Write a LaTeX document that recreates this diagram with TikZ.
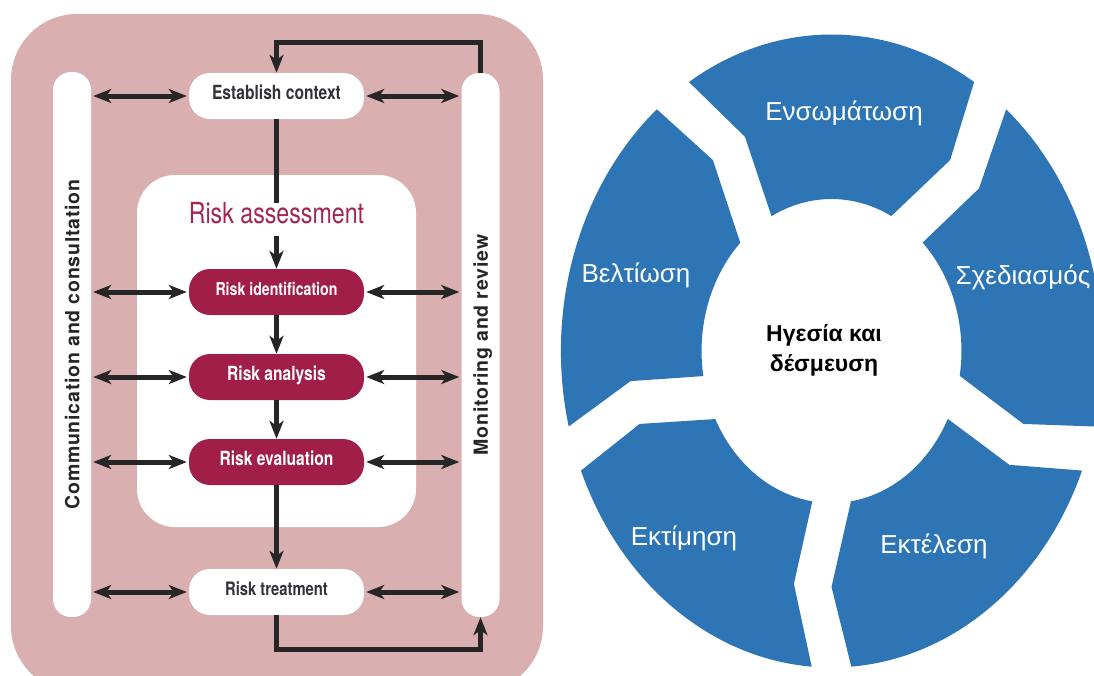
\documentclass[tikz,border=0pt]{standalone}
\usepackage{fontspec}
\usetikzlibrary{arrows.meta}
\newfontfamily\condfont[FakeStretch=0.8]{TeX Gyre Heros}
\newfontfamily\sidefont[LetterSpace=4]{TeX Gyre Heros}
\newfontfamily\greekfont{Liberation Sans}
\definecolor{pinkbg}{RGB}{218,175,176}
\definecolor{crimson}{RGB}{160,30,72}
\definecolor{assesscol}{RGB}{163,38,80}
\definecolor{ink}{RGB}{38,38,38}
\definecolor{labelgray}{RGB}{50,50,58}
\definecolor{cycleblue}{RGB}{46,117,182}

% one block of the cycle, centred on angle #1, pointing clockwise
\newcommand\cycleseg[1]{%
  \fill[cycleblue] ({#1+31.8}:316.5)
    arc[start angle={#1+31.8}, end angle={#1-31.8}, radius=316.5]
    -- ({#1-36}:236) -- ({#1-27.4}:152)
    arc[start angle={#1-27.4}, end angle={#1+27.5}, radius=152]
    -- ({#1+25.3}:237) -- cycle;}

\begin{document}
\begin{tikzpicture}[x=1pt,y=-1pt,
  sidebar/.style={fill=white, rounded corners=18pt, rotate=90, minimum height=38pt,
    inner sep=0pt, text depth=0pt, text=black!85,
    font=\sidefont\bfseries\fontsize{19.5}{22}\selectfont},
  plainbox/.style={fill=white, rounded corners=21pt, minimum width=175pt, minimum height=46pt,
    inner sep=0pt, text height=0.72em, text depth=0pt, text=labelgray},
  stagebox/.style={fill=crimson, rounded corners=21pt, minimum width=175pt, minimum height=46pt,
    inner sep=0pt, text height=0.72em, text depth=0pt, text=white},
  conn/.style={draw=ink, line width=5pt},
  headtip/.tip={Stealth[length=18pt, width=14pt, inset=5pt]},
  twoway/.style={conn, headtip-headtip, shorten <=2pt, shorten >=2pt},
  flow/.style={conn, -headtip},
  seglabel/.style={text=white, font=\greekfont\fontsize{26}{29}\selectfont}
]
\useasboundingbox (0,0) rectangle (1094,675);
\fill[white] (0,0) rectangle (1094,675);

% ---------------- risk management process ----------------
\fill[pinkbg, rounded corners=66pt] (11,14) rectangle (543,692);

\node[sidebar, minimum width=545pt] (comm) at (72,344.5) {Communication and consultation};
\node[sidebar, minimum width=544pt] (mon) at (480.5,345) {Monitoring and review};

\node[fill=white, rounded corners=38pt, minimum width=279pt, minimum height=352pt,
      inner sep=0pt] (assess) at (276.5,351) {};

\node[plainbox, font=\condfont\bfseries\fontsize{19.5}{22}\selectfont] (ctx) at (276.5,96) {Establish context};
\node[inner sep=0pt, minimum height=32pt, text height=0.72em, text depth=0pt, text=assesscol,
      font=\condfont\fontsize{29}{32}\selectfont] (ra) at (276.5,219.5) {Risk assessment};
\node[stagebox, font=\condfont\bfseries\fontsize{17.7}{20}\selectfont] (rid) at (276.5,292) {Risk identification};
\node[stagebox, font=\condfont\bfseries\fontsize{19.5}{22}\selectfont] (ran) at (276.5,377) {Risk analysis};
\node[stagebox, font=\condfont\bfseries\fontsize{19.5}{22}\selectfont] (rev) at (276.5,462) {Risk evaluation};
\node[plainbox, font=\condfont\bfseries\fontsize{18.5}{21}\selectfont] (rtr) at (276.5,592) {Risk treatment};

% exchanges with the two side bars
\foreach \b in {ctx,rid,ran,rev,rtr}{
  \draw[twoway] (\b.west -| comm.south) -- (\b.west);
  \draw[twoway] (\b.east) -- (\b.east -| mon.north);
}

% main flow
\draw[conn] (ctx.south) -- (ra.north);
\draw[flow] (ra.south) -- (rid.north);
\draw[flow] (rid.south) -- (ran.north);
\draw[flow] (ran.south) -- (rev.north);
\draw[flow] (rev.south) -- (rtr.north);

% feedback loops
\coordinate (looptop) at (0,42);
\coordinate (loopbot) at (0,649);
\draw[flow] (mon.east) |- (looptop -| ctx.north) -- (ctx.north);
\draw[flow] (rtr.south) |- (loopbot -| mon.west) -- (mon.west);

% ---------------- leadership cycle ----------------
\begin{scope}[shift={(831.5,351)}, xscale=0.855, yscale=-1]
  \foreach \a in {90,18,-54,-126,162}{\cycleseg{\a}}
\end{scope}

\node[seglabel] (emb) at (844,113) {Ενσωμάτωση};
\node[seglabel] (des) at (1023,277) {Σχεδιασμός};
\node[seglabel] (imp) at (934,546) {Εκτέλεση};
\node[seglabel] (eva) at (684,538) {Εκτίμηση};
\node[seglabel] (imv) at (636,275) {Βελτίωση};
\node[align=center, text=black, font=\greekfont\bfseries\fontsize{23}{30}\selectfont] (core)
  at (824,350) {Ηγεσία και\\δέσμευση};
\end{tikzpicture}
\end{document}
